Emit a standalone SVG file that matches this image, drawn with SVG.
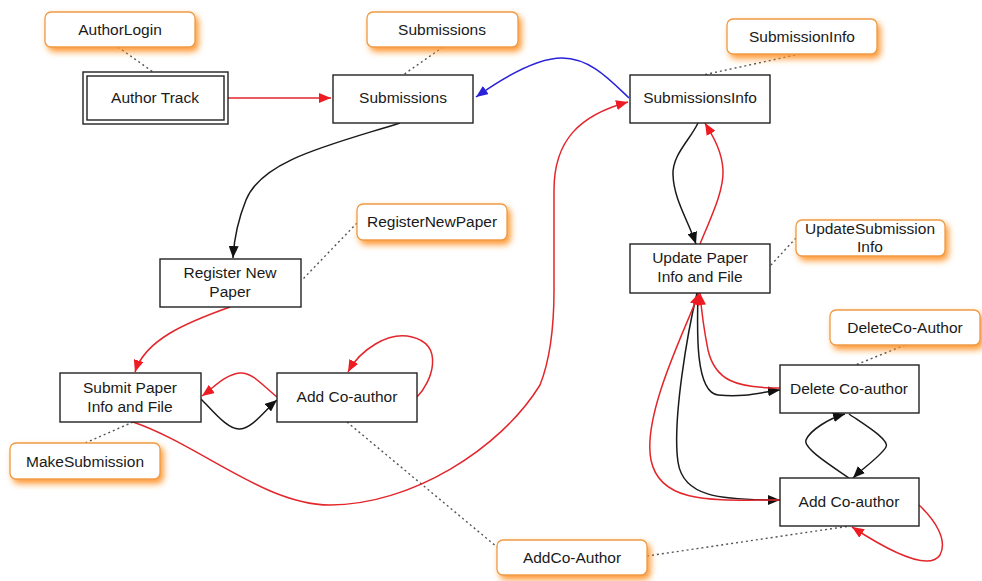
<svg xmlns="http://www.w3.org/2000/svg" width="982" height="581" viewBox="0 0 982 581">
  <style>
    .box { fill: #ffffff; stroke: #222222; stroke-width: 1.4; }
    .note { fill: #ffffff; stroke: #ef9a45; stroke-width: 1.3; }
    .label { font-family: "Liberation Sans", Arial, Helvetica, sans-serif; font-size: 15.5px; fill: #1a1a1a; text-anchor: middle; }
    .red { fill: none; stroke: #e3262b; stroke-width: 1.5; }
    .black { fill: none; stroke: #1a1a1a; stroke-width: 1.5; }
    .blue { fill: none; stroke: #2a22d8; stroke-width: 1.5; }
    .dot { fill: none; stroke: #555555; stroke-width: 1.4; stroke-dasharray: 2 3; }
  </style>
  <defs>
    <marker id="ah-red" viewBox="0 0 12 10" refX="12" refY="5" markerWidth="12" markerHeight="10" markerUnits="userSpaceOnUse" orient="auto">
      <path d="M0,0 L12,5 L0,10 z" fill="#ee1c22"/>
    </marker>
    <marker id="ah-black" viewBox="0 0 12 10" refX="12" refY="5" markerWidth="12" markerHeight="10" markerUnits="userSpaceOnUse" orient="auto">
      <path d="M0,0 L12,5 L0,10 z" fill="#111111"/>
    </marker>
    <marker id="ah-blue" viewBox="0 0 12 10" refX="12" refY="5" markerWidth="12" markerHeight="10" markerUnits="userSpaceOnUse" orient="auto">
      <path d="M0,0 L12,5 L0,10 z" fill="#2a22d8"/>
    </marker>
    <filter id="glow" x="-20%" y="-40%" width="150%" height="200%">
      <feGaussianBlur in="SourceAlpha" stdDeviation="3"/>
      <feOffset dx="3" dy="4" result="blur"/>
      <feFlood flood-color="#ff8c1a" flood-opacity="0.9"/>
      <feComposite in2="blur" operator="in" result="shadow"/>
      <feMerge>
        <feMergeNode in="shadow"/>
        <feMergeNode in="SourceGraphic"/>
      </feMerge>
    </filter>
  </defs>

  <rect width="982" height="581" fill="#ffffff"/>

  <!-- connectors -->
  <g id="connectors">
    <!-- annotation links -->
    <line class="dot" x1="118" y1="47" x2="153" y2="72"/>
    <line class="dot" x1="443" y1="47" x2="403" y2="75"/>
    <line class="dot" x1="800" y1="54" x2="703" y2="75"/>
    <line class="dot" x1="357" y1="223" x2="302" y2="280"/>
    <line class="dot" x1="796" y1="238" x2="771" y2="265"/>
    <line class="dot" x1="905" y1="345" x2="853" y2="366"/>
    <line class="dot" x1="133" y1="422" x2="85" y2="443"/>
    <line class="dot" x1="347" y1="422" x2="497" y2="547"/>
    <line class="dot" x1="647" y1="556" x2="850" y2="526"/>

    <!-- flow edges -->
    <path class="red" d="M228,98 L331,98" marker-end="url(#ah-red)"/>
    <path class="blue" d="M629,98 C610,80 590,58 562,58 C535,58 500,80 476,97" marker-end="url(#ah-blue)"/>
    <path class="black" d="M400,123 C330,145 262,160 246,200 C238,220 234,240 233,258" marker-end="url(#ah-black)"/>
    <path class="red" d="M230,307 C185,323 145,340 135,372" marker-end="url(#ah-red)"/>
    <path class="red" d="M277,397 C262,385 252,372 240,373 C226,374 213,388 202,396" marker-end="url(#ah-red)"/>
    <path class="black" d="M201,399 C214,412 228,430 240,429 C253,428 265,410 277,400" marker-end="url(#ah-black)"/>
    <path class="red" d="M417,397 C432,382 445,345 412,337 C388,331 360,350 348,372" marker-end="url(#ah-red)"/>
    <path class="red" d="M133,422 C200,445 265,505 330,505 C410,505 500,450 540,385 C550,360 554,330 554,290 L554,190 C554,140 580,115 628,102" marker-end="url(#ah-red)"/>

    <path class="black" d="M698,123 C690,140 672,155 673,175 C674,200 688,220 696,244" marker-end="url(#ah-black)"/>
    <path class="red" d="M700,244 C712,215 724,190 723,170 C722,150 712,135 705,123" marker-end="url(#ah-red)"/>

    <path class="black" d="M698,293 C697,330 695,392 718,395 C745,398 762,392 780,390" marker-end="url(#ah-black)"/>
    <path class="black" d="M697,293 C688,330 672,420 678,462 C683,497 720,500 780,500" marker-end="url(#ah-black)"/>
    <path class="red" d="M780,388 C735,388 715,380 708,350 C703,325 701,305 700,293" marker-end="url(#ah-red)"/>
    <path class="red" d="M780,500 C715,500 660,505 651,460 C642,415 685,330 699,293" marker-end="url(#ah-red)"/>

    <path class="black" d="M849,478 C830,465 803,448 806,440 C810,430 830,418 845,414" marker-end="url(#ah-black)"/>
    <path class="black" d="M849,414 C865,425 890,440 886,447 C880,457 863,468 853,478" marker-end="url(#ah-black)"/>
    <path class="red" d="M919,505 C935,520 948,540 940,555 C930,570 895,555 852,527" marker-end="url(#ah-red)"/>
  </g>

  <!-- annotation notes -->
  <g id="note-authorlogin">
    <rect class="note" x="45" y="12" width="150" height="35" rx="6" filter="url(#glow)"/>
    <text class="label" x="120" y="35">AuthorLogin</text>
  </g>
  <g id="note-submissions">
    <rect class="note" x="367" y="12" width="151" height="35" rx="6" filter="url(#glow)"/>
    <text class="label" x="442" y="35">Submissions</text>
  </g>
  <g id="note-submissioninfo">
    <rect class="note" x="727" y="19" width="150" height="35" rx="6" filter="url(#glow)"/>
    <text class="label" x="802" y="42">SubmissionInfo</text>
  </g>
  <g id="note-registernewpaper">
    <rect class="note" x="357" y="204" width="150" height="36" rx="6" filter="url(#glow)"/>
    <text class="label" x="432" y="227">RegisterNewPaper</text>
  </g>
  <g id="note-updatesubmissioninfo">
    <rect class="note" x="796" y="220" width="149" height="36" rx="6" filter="url(#glow)"/>
    <text class="label" x="870" y="234">UpdateSubmission</text>
    <text class="label" x="870" y="252">Info</text>
  </g>
  <g id="note-deletecoauthor">
    <rect class="note" x="830" y="310" width="150" height="35" rx="6" filter="url(#glow)"/>
    <text class="label" x="905" y="333">DeleteCo-Author</text>
  </g>
  <g id="note-makesubmission">
    <rect class="note" x="10" y="443" width="150" height="36" rx="6" filter="url(#glow)"/>
    <text class="label" x="85" y="467">MakeSubmission</text>
  </g>
  <g id="note-addcoauthor">
    <rect class="note" x="497" y="540" width="150" height="35" rx="6" filter="url(#glow)"/>
    <text class="label" x="572" y="563">AddCo-Author</text>
  </g>

  <!-- state nodes -->
  <g id="author-track">
    <rect class="box" x="83" y="72" width="145" height="52"/>
    <rect class="box" x="87" y="76" width="137" height="44"/>
    <text class="label" x="155" y="103">Author Track</text>
  </g>
  <g id="submissions">
    <rect class="box" x="333" y="75" width="140" height="48"/>
    <text class="label" x="403" y="103">Submissions</text>
  </g>
  <g id="submissions-info">
    <rect class="box" x="630" y="75" width="140" height="48"/>
    <text class="label" x="700" y="103">SubmissionsInfo</text>
  </g>
  <g id="register-new-paper">
    <rect class="box" x="160" y="259" width="141" height="48"/>
    <text class="label" x="230" y="278">Register New</text>
    <text class="label" x="230" y="297">Paper</text>
  </g>
  <g id="submit-paper">
    <rect class="box" x="60" y="373" width="141" height="49"/>
    <text class="label" x="130" y="393">Submit Paper</text>
    <text class="label" x="130" y="412">Info and File</text>
  </g>
  <g id="add-coauthor-submit">
    <rect class="box" x="277" y="373" width="140" height="49"/>
    <text class="label" x="347" y="402">Add Co-author</text>
  </g>
  <g id="update-paper">
    <rect class="box" x="630" y="244" width="140" height="49"/>
    <text class="label" x="700" y="263">Update Paper</text>
    <text class="label" x="700" y="282">Info and File</text>
  </g>
  <g id="delete-coauthor">
    <rect class="box" x="780" y="365" width="139" height="48"/>
    <text class="label" x="849" y="394">Delete Co-author</text>
  </g>
  <g id="add-coauthor-update">
    <rect class="box" x="780" y="478" width="139" height="48"/>
    <text class="label" x="849" y="507">Add Co-author</text>
  </g>
</svg>
